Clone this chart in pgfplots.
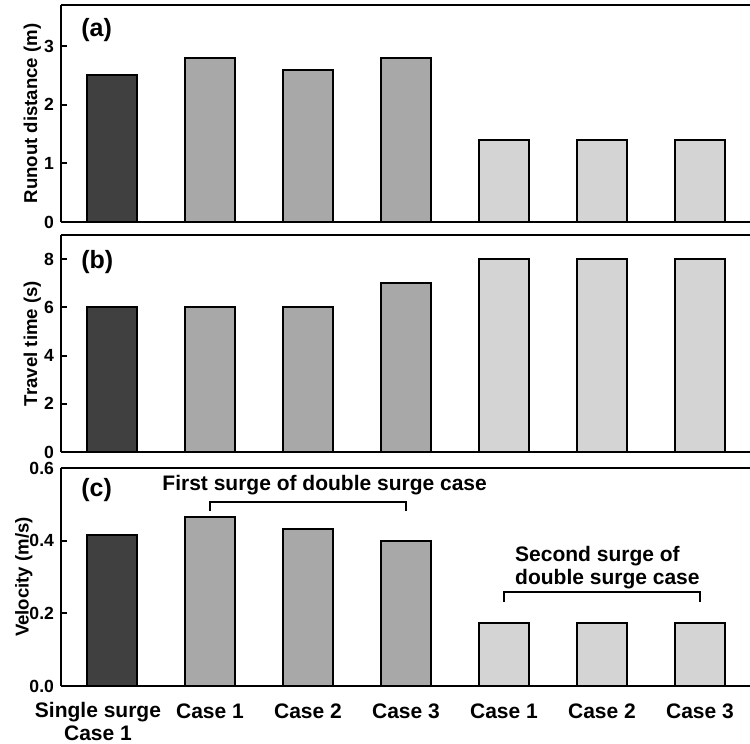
\documentclass[border=0pt]{standalone}
\usepackage{pgfplots}
\pgfplotsset{compat=1.18}
\usepackage{fontspec}
\setmainfont{Liberation Sans}
\definecolor{cdark}{HTML}{404040}
\definecolor{cmid}{HTML}{A8A8A8}
\definecolor{clight}{HTML}{D4D4D4}
\pgfplotsset{
  panel/.style={
    scale only axis,
    width=344.5pt,
    xmin=-0.52, xmax=6.51,
    ybar, bar width=25pt, bar shift=0pt,
    axis x line=box, axis y line=left,
    y axis line style={-},
    axis line style={line width=1pt, black},
    xtick={0,...,6},
    xtick style={draw=none},
    ytick style={line width=1pt, black},
    tick align=inside,
    major tick length=3pt,
    ymin=0,
    clip=false,
    /pgf/number format/assume math mode=true,
    ticklabel style={font=\fontsize{8.8}{10}\selectfont\bfseries},
    ylabel style={font=\fontsize{9.3}{11}\selectfont\bfseries, inner sep=0pt},
    every axis plot/.append style={draw=black, line width=1pt},
  }
}
\begin{document}
\begin{tikzpicture}
\useasboundingbox (0,0) rectangle (375pt,-372pt);
% (a)
\begin{axis}[panel, at={(30.5pt,-111pt)}, anchor=south west, height=108.5pt,
  ymax=3.7, ytick={0,1,2,3}, xticklabels={},
  ylabel={Runout distance (m)}, ylabel shift=-2pt]
\addplot[fill=cdark] coordinates {(0,2.5)};
\addplot[fill=cmid] coordinates {(1,2.8) (2,2.6) (3,2.8)};
\addplot[fill=clight] coordinates {(4,1.4) (5,1.4) (6,1.4)};
\node[anchor=west, inner sep=0pt, font=\fontsize{12.5}{14}\selectfont\bfseries] at (axis description cs:0.029,0.885) {(a)};
\end{axis}
% (b)
\begin{axis}[panel, at={(30.5pt,-226pt)}, anchor=south west, height=108.5pt,
  ymax=9, ytick={0,2,4,6,8}, xticklabels={},
  ylabel={Travel time (s)}, ylabel shift=-2pt]
\addplot[fill=cdark] coordinates {(0,6)};
\addplot[fill=cmid] coordinates {(1,6) (2,6) (3,7)};
\addplot[fill=clight] coordinates {(4,8) (5,8) (6,8)};
\node[anchor=west, inner sep=0pt, font=\fontsize{12.5}{14}\selectfont\bfseries] at (axis description cs:0.029,0.875) {(b)};
\end{axis}
% (c)
\begin{axis}[panel, at={(30.5pt,-343pt)}, anchor=south west, height=109pt,
  ymax=0.6, ytick={0,0.2,0.4,0.6},
  yticklabel style={/pgf/number format/.cd, fixed, fixed zerofill, precision=1},
  xticklabels={{},Case 1,Case 2,Case 3,Case 1,Case 2,Case 3},
  xticklabel style={yshift=-5.5pt, font=\fontsize{10.5}{11}\selectfont\bfseries},
  ylabel={Velocity (m/s)}, ylabel shift=-5pt]
\addplot[fill=cdark] coordinates {(0,0.416)};
\addplot[fill=cmid] coordinates {(1,0.466) (2,0.433) (3,0.400)};
\addplot[fill=clight] coordinates {(4,0.174) (5,0.174) (6,0.174)};
\node[anchor=west, inner sep=0pt, font=\fontsize{12.5}{14}\selectfont\bfseries] at (axis description cs:0.029,0.9) {(c)};
\node[anchor=north, align=center, inner sep=0.333em, yshift=-4.5pt, xshift=-7pt,
  font=\fontsize{10.5}{11.5}\selectfont\bfseries] at (axis cs:0,0) {Single surge\\Case 1};
\draw[line width=1pt] (axis cs:1,0.482) -- (axis cs:1,0.506) -- (axis cs:3,0.506) -- (axis cs:3,0.482);
\node[font=\fontsize{10.5}{12}\selectfont\bfseries] at (axis cs:2.17,0.553) {First surge of double surge case};
\draw[line width=1pt] (axis cs:4,0.231) -- (axis cs:4,0.259) -- (axis cs:6,0.259) -- (axis cs:6,0.231);
\node[anchor=west, align=left, inner sep=0pt, font=\fontsize{10.5}{11.5}\selectfont\bfseries] at (axis cs:4.11,0.325) {Second surge of\\double surge case};
\end{axis}
\end{tikzpicture}
\end{document}
